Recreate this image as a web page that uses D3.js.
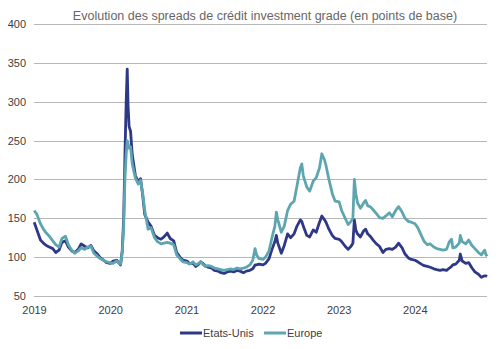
<!DOCTYPE html>
<html>
<head>
<meta charset="utf-8">
<script src="https://cdn.jsdelivr.net/npm/d3@7"></script>
<style>
  html, body { margin: 0; padding: 0; background: #ffffff; }
  svg { display: block; font-family: Arial, "Liberation Sans", sans-serif; }
</style>
</head>
<body>
<svg id="chart" width="500" height="349"></svg>
<script>
// Observation dates shared by both series
const dates = [
  "2019-01-02","2019-01-15","2019-02-01","2019-02-15","2019-03-01","2019-03-15","2019-04-01","2019-04-15",
  "2019-05-01","2019-05-15","2019-06-01","2019-06-15","2019-07-01","2019-07-15","2019-08-01","2019-08-15",
  "2019-09-01","2019-09-15","2019-10-01","2019-10-15","2019-11-01","2019-11-15","2019-12-01","2019-12-15",
  "2020-01-02","2020-01-15","2020-02-01","2020-02-20","2020-02-28","2020-03-06","2020-03-12","2020-03-18",
  "2020-03-23","2020-03-27","2020-04-01","2020-04-08","2020-04-16","2020-05-01","2020-05-15","2020-05-26",
  "2020-06-05","2020-06-15","2020-07-01","2020-07-15","2020-08-01","2020-08-15","2020-09-01","2020-09-15",
  "2020-10-01","2020-10-15","2020-11-01","2020-11-15","2020-12-01","2020-12-15",
  "2021-01-04","2021-01-15","2021-02-01","2021-02-15","2021-03-01","2021-03-10","2021-03-20","2021-04-01",
  "2021-04-15","2021-05-01","2021-05-15","2021-06-01","2021-06-15","2021-07-01","2021-07-15","2021-08-01",
  "2021-08-15","2021-09-01","2021-09-15","2021-10-01","2021-10-15","2021-11-01","2021-11-15","2021-11-26",
  "2021-12-03","2021-12-15",
  "2022-01-03","2022-01-15","2022-02-01","2022-02-15","2022-03-01","2022-03-08","2022-03-15","2022-04-01",
  "2022-04-15","2022-05-01","2022-05-15","2022-06-01","2022-06-15","2022-07-01","2022-07-08","2022-07-15",
  "2022-08-01","2022-08-15","2022-09-01","2022-09-15","2022-10-01","2022-10-12","2022-10-25","2022-11-01",
  "2022-11-15","2022-12-01","2022-12-15",
  "2023-01-03","2023-01-15","2023-02-01","2023-02-15","2023-03-01","2023-03-10","2023-03-17","2023-03-24",
  "2023-04-01","2023-04-15","2023-05-01","2023-05-10","2023-05-20","2023-06-01","2023-06-15","2023-07-01",
  "2023-07-15","2023-08-01","2023-08-15","2023-09-01","2023-09-15","2023-10-01","2023-10-15","2023-11-01",
  "2023-11-15","2023-12-01","2023-12-15",
  "2024-01-02","2024-01-15","2024-02-01","2024-02-15","2024-03-01","2024-03-15","2024-04-01","2024-04-15",
  "2024-05-01","2024-05-15","2024-06-01","2024-06-15","2024-06-25","2024-07-01","2024-07-15","2024-08-01",
  "2024-08-06","2024-08-15","2024-09-01","2024-09-15","2024-10-01","2024-10-15","2024-11-01","2024-11-15",
  "2024-12-01","2024-12-06","2024-12-12"
];

// Etats-Unis, spread in basis points
const usSpread = [
  145,135,122,118,115,113,111,106,109,119,121,113,108,106,110,117,114,112,115,108,104,99,96,93,
  92,95,96,90,108,150,230,300,342,295,268,262,232,205,197,201,180,155,145,140,128,125,123,126,131,124,121,106,100,96,
  95,92,92,88,91,94,92,89,87,86,83,82,80,79,81,82,81,83,82,80,82,83,85,90,90,91,
  90,92,98,110,120,128,118,105,115,130,125,130,140,148,146,140,128,126,135,132,145,153,148,145,136,128,124,
  123,120,114,110,114,118,148,135,130,126,134,136,130,127,122,117,114,106,110,111,110,113,118,112,104,99,97,
  96,94,91,89,88,87,85,84,83,84,83,86,88,90,91,96,104,95,92,93,86,81,78,74,76,76,75
];

// Europe, spread in basis points
const euSpread = [
  160,155,143,136,131,127,121,116,113,124,127,116,109,105,108,112,110,113,114,105,101,98,96,94,
  93,92,95,91,106,140,200,232,250,246,240,242,220,202,194,199,182,160,136,138,125,120,117,118,119,118,116,103,98,94,
  93,91,94,90,92,94,91,88,89,88,86,85,84,83,84,85,84,86,85,86,87,90,96,111,103,98,
  97,100,108,125,140,158,148,132,140,160,168,172,192,215,220,205,190,185,198,202,215,233,225,218,200,182,172,
  171,160,150,142,146,150,200,182,170,163,170,173,166,165,161,156,151,150,153,157,152,160,165,158,150,146,145,
  143,138,128,120,116,117,113,111,110,109,110,120,123,112,113,118,128,120,117,122,115,111,106,103,109,104,101
];

const yTicks = [50, 100, 150, 200, 250, 300, 350, 400];
const xTickYears = ["2019", "2020", "2021", "2022", "2023", "2024"];
const seriesNames = ["Etats-Unis", "Europe"];
const seriesColors = ["#2E3886", "#5EA6AF"];
const title = "Evolution des spreads de crédit investment grade (en points de base)";

const parse = d3.timeParse("%Y-%m-%d");
const series = [usSpread, euSpread].map((vals, i) => ({
  name: seriesNames[i],
  color: seriesColors[i],
  points: dates.map((d, j) => ({ date: parse(d), value: vals[j] }))
}));

const svg = d3.select("#chart");
const plotLeft = 34, plotRight = 487, plotTop = 24, plotBottom = 296;

const x = d3.scaleTime()
  .domain([parse("2019-01-01"), parse("2024-12-12")])
  .range([plotLeft, plotRight]);
const y = d3.scaleLinear().domain([50, 400]).range([plotBottom, plotTop]);

// Horizontal gridlines
svg.append("g")
  .selectAll("line")
  .data(yTicks)
  .join("line")
  .attr("x1", plotLeft)
  .attr("x2", plotRight)
  .attr("y1", d => Math.round(y(d)) + 0.5)
  .attr("y2", d => Math.round(y(d)) + 0.5)
  .attr("stroke", "#B8B8B8")
  .attr("stroke-width", 1);

// Y axis labels
const yAxis = d3.axisLeft(y).tickValues(yTicks).tickSize(0).tickPadding(0);
svg.append("g")
  .attr("transform", `translate(${plotLeft - 8},0)`)
  .call(yAxis)
  .call(g => g.select(".domain").remove())
  .call(g => g.selectAll("text")
    .attr("font-family", "Arial, 'Liberation Sans', sans-serif")
    .attr("font-size", 11)
    .attr("fill", "#404040"));

// X axis labels
const xAxis = d3.axisBottom(x)
  .tickValues(xTickYears.map(yr => parse(yr + "-01-01")))
  .tickFormat(d3.timeFormat("%Y"))
  .tickSize(0)
  .tickPadding(0);
svg.append("g")
  .attr("transform", `translate(0,${plotBottom + 10})`)
  .call(xAxis)
  .call(g => g.select(".domain").remove())
  .call(g => g.selectAll("text")
    .attr("font-family", "Arial, 'Liberation Sans', sans-serif")
    .attr("font-size", 11)
    .attr("fill", "#404040"));

// Series lines
const line = d3.line()
  .x(d => x(d.date))
  .y(d => y(d.value));

svg.append("g")
  .selectAll("path")
  .data(series)
  .join("path")
  .attr("d", d => line(d.points))
  .attr("fill", "none")
  .attr("stroke", d => d.color)
  .attr("stroke-width", 2.8)
  .attr("stroke-linejoin", "round");

// Title
svg.append("text")
  .attr("x", 265)
  .attr("y", 20)
  .attr("text-anchor", "middle")
  .attr("font-size", 12.5)
  .attr("fill", "#666666")
  .text(title);

// Legend
const legendOffsets = [180, 264];
const legend = svg.append("g")
  .selectAll("g")
  .data(series)
  .join("g")
  .attr("transform", (d, i) => `translate(${legendOffsets[i]},333)`);
legend.append("line")
  .attr("x1", 0).attr("x2", 22)
  .attr("y1", 0).attr("y2", 0)
  .attr("stroke", d => d.color)
  .attr("stroke-width", 3);
legend.append("text")
  .attr("x", 23)
  .attr("y", 4)
  .attr("font-size", 11)
  .attr("fill", "#404040")
  .text(d => d.name);
</script>
</body>
</html>
